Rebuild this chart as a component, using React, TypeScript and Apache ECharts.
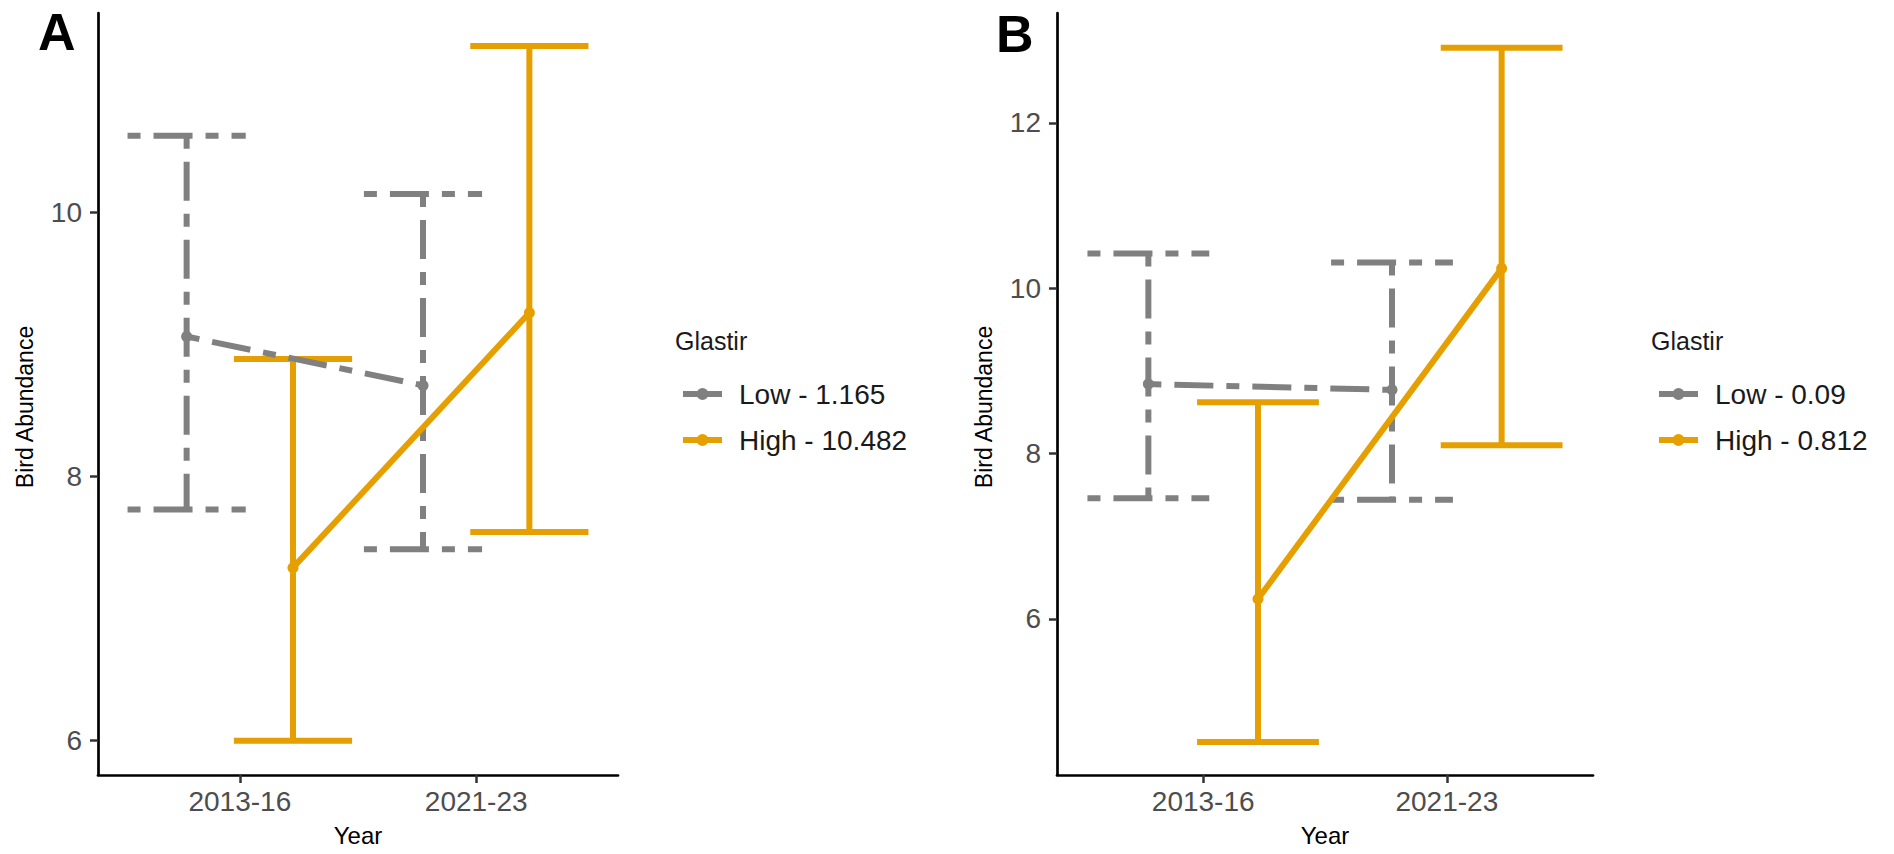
import React, { useEffect, useRef } from 'react';
import * as echarts from 'echarts';

// ---- data ----
const categories = ['2013-16', '2021-23'];
const legendTitle = 'Glastir';

// Panel A
const labelsA = ['Low - 1.165', 'High - 10.482'];
const lowMeanA = [9.06, 8.69];
const lowLowerA = [7.75, 7.45];
const lowUpperA = [10.58, 10.14];
const highMeanA = [7.31, 9.24];
const highLowerA = [6.0, 7.58];
const highUpperA = [8.89, 11.26];
const yTicksA = [6, 8, 10];

// Panel B
const labelsB = ['Low - 0.09', 'High - 0.812'];
const lowMeanB = [8.84, 8.77];
const lowLowerB = [7.46, 7.44];
const lowUpperB = [10.42, 10.31];
const highMeanB = [6.24, 10.24];
const highLowerB = [4.51, 8.1];
const highUpperB = [8.62, 12.91];
const yTicksB = [6, 8, 10, 12];

// ---- styling ----
const FONT = '"Liberation Sans", Arial, Helvetica, sans-serif';
const LOW_COLOR = '#808080';
const HIGH_COLOR = '#E69F00';
const GROUP_COLORS = [LOW_COLOR, HIGH_COLOR];
const LINE_W = 6;
const TWODASH = [13, 13, 39, 13];
const DODGE = 0.225;
const CAP_HALF = 0.25;
const KEY_ICON =
  'path://M0,3 L39,3 L39,9 L0,9 Z M19.5,0 A6,6 0 1,1 19.5,12 A6,6 0 1,1 19.5,0 Z';

const xPos = (i: number, g: number) => i + 1 + (g === 0 ? -DODGE : DODGE);

function errorBarSeries(
  gridIndex: number,
  name: string,
  g: number,
  lower: number[],
  upper: number[],
  color: string,
  dash: number[] | null
) {
  return {
    type: 'custom',
    name,
    xAxisIndex: gridIndex,
    yAxisIndex: gridIndex,
    z: 2,
    data: categories.map((_, i) => [xPos(i, g), lower[i], upper[i]]),
    encode: { x: 0, y: [1, 2] },
    renderItem: (params: any, api: any) => {
      const x = api.value(0);
      const lo = api.value(1);
      const hi = api.value(2);
      const tl = api.coord([x - CAP_HALF, hi]);
      const tr = api.coord([x + CAP_HALF, hi]);
      const top = api.coord([x, hi]);
      const bot = api.coord([x, lo]);
      const bl = api.coord([x - CAP_HALF, lo]);
      const br = api.coord([x + CAP_HALF, lo]);
      const style = { stroke: color, lineWidth: LINE_W, lineDash: dash || undefined, fill: null };
      return {
        type: 'group',
        children: [
          { type: 'line', shape: { x1: tl[0], y1: tl[1], x2: tr[0], y2: tr[1] }, style },
          { type: 'line', shape: { x1: top[0], y1: top[1], x2: bot[0], y2: bot[1] }, style },
          { type: 'line', shape: { x1: bl[0], y1: bl[1], x2: br[0], y2: br[1] }, style },
        ],
      };
    },
  };
}

function meanSeries(
  gridIndex: number,
  name: string,
  g: number,
  mean: number[],
  color: string,
  dash: number[] | 'solid'
) {
  return {
    type: 'line',
    name,
    xAxisIndex: gridIndex,
    yAxisIndex: gridIndex,
    z: 3,
    data: categories.map((_, i) => [xPos(i, g), mean[i]]),
    symbol: 'circle',
    symbolSize: 11,
    itemStyle: { color, borderWidth: 0 },
    lineStyle: { color, width: LINE_W, type: dash, cap: 'butt' },
    emphasis: { disabled: true },
  };
}

function xAxisFor(gridIndex: number) {
  return {
    type: 'value',
    gridIndex,
    min: 0.4,
    max: 2.6,
    name: 'Year',
    nameLocation: 'middle',
    nameGap: 48,
    nameTextStyle: { fontFamily: FONT, fontSize: 24, color: '#000' },
    splitLine: { show: false },
    axisLine: { show: true, lineStyle: { color: '#000', width: 2.7 } },
    axisTick: { show: true, customValues: [1, 2], length: 8, lineStyle: { color: '#333', width: 2.5 } },
    axisLabel: {
      customValues: [1, 2],
      formatter: (v: number) => categories[Math.round(v) - 1] ?? '',
      fontFamily: FONT,
      fontSize: 28,
      color: '#4D4D4D',
      margin: 12,
    },
  };
}

function yAxisFor(gridIndex: number, min: number, max: number, ticks: number[], nameGap: number) {
  return {
    type: 'value',
    gridIndex,
    min,
    max,
    name: 'Bird Abundance',
    nameLocation: 'middle',
    nameRotate: 90,
    nameGap,
    nameTextStyle: { fontFamily: FONT, fontSize: 23, color: '#000', padding: [0, 26, 0, 0] },
    splitLine: { show: false },
    axisLine: { show: true, lineStyle: { color: '#000', width: 2.7 } },
    axisTick: { show: true, customValues: ticks, length: 8, lineStyle: { color: '#333', width: 2.5 } },
    axisLabel: {
      customValues: ticks,
      fontFamily: FONT,
      fontSize: 28,
      color: '#4D4D4D',
      margin: 16,
    },
  };
}

function legendFor(names: string[], left: number) {
  return {
    data: names.map((name, g) => ({
      name,
      icon: KEY_ICON,
      itemStyle: { color: GROUP_COLORS[g], borderWidth: 0, borderType: 'solid' },
      lineStyle: { type: 'solid', width: 0 },
    })),
    orient: 'vertical',
    left,
    top: 374,
    itemWidth: 39,
    itemHeight: 12,
    itemGap: 16,
    selectedMode: false,
    itemStyle: { borderWidth: 0 },
    lineStyle: { type: 'solid', width: 0 },
    textStyle: {
      fontFamily: FONT,
      fontSize: 28,
      color: '#1A1A1A',
      lineHeight: 30,
      padding: [0, 0, 0, 12],
    },
  };
}

export default function App() {
  const ref = useRef<HTMLDivElement>(null);

  useEffect(() => {
    if (!ref.current) return;
    const chart = echarts.init(ref.current, null, { renderer: 'svg' });
    chart.setOption({
      animation: false,
      backgroundColor: '#fff',
      grid: [
        { left: 98, top: 13, width: 520, height: 762 },
        { left: 1057, top: 13, width: 536, height: 762 },
      ],
      xAxis: [xAxisFor(0), xAxisFor(1)],
      yAxis: [yAxisFor(0, 5.74, 11.51, yTicksA, 62), yAxisFor(1, 4.11, 13.33, yTicksB, 62)],
      legend: [legendFor(labelsA, 678), legendFor(labelsB, 1654)],
      graphic: [
        { type: 'text', left: 38, top: 6, style: { text: 'A', font: `bold 52px ${FONT}`, fill: '#000' } },
        { type: 'text', left: 996, top: 8, style: { text: 'B', font: `bold 52px ${FONT}`, fill: '#000' } },
        { type: 'text', left: 675, top: 328, style: { text: legendTitle, font: `25px ${FONT}`, fill: '#1A1A1A' } },
        { type: 'text', left: 1651, top: 328, style: { text: legendTitle, font: `25px ${FONT}`, fill: '#1A1A1A' } },
      ],
      series: [
        errorBarSeries(0, 'Low interval A', 0, lowLowerA, lowUpperA, LOW_COLOR, TWODASH),
        errorBarSeries(0, 'High interval A', 1, highLowerA, highUpperA, HIGH_COLOR, null),
        meanSeries(0, labelsA[0], 0, lowMeanA, LOW_COLOR, TWODASH),
        meanSeries(0, labelsA[1], 1, highMeanA, HIGH_COLOR, 'solid'),
        errorBarSeries(1, 'Low interval B', 0, lowLowerB, lowUpperB, LOW_COLOR, TWODASH),
        errorBarSeries(1, 'High interval B', 1, highLowerB, highUpperB, HIGH_COLOR, null),
        meanSeries(1, labelsB[0], 0, lowMeanB, LOW_COLOR, TWODASH),
        meanSeries(1, labelsB[1], 1, highMeanB, HIGH_COLOR, 'solid'),
      ],
    });
    return () => chart.dispose();
  }, []);

  return (
    <div
      ref={ref}
      style={{ position: 'fixed', left: 0, top: 0, width: 1894, height: 854, background: '#fff' }}
    />
  );
}
